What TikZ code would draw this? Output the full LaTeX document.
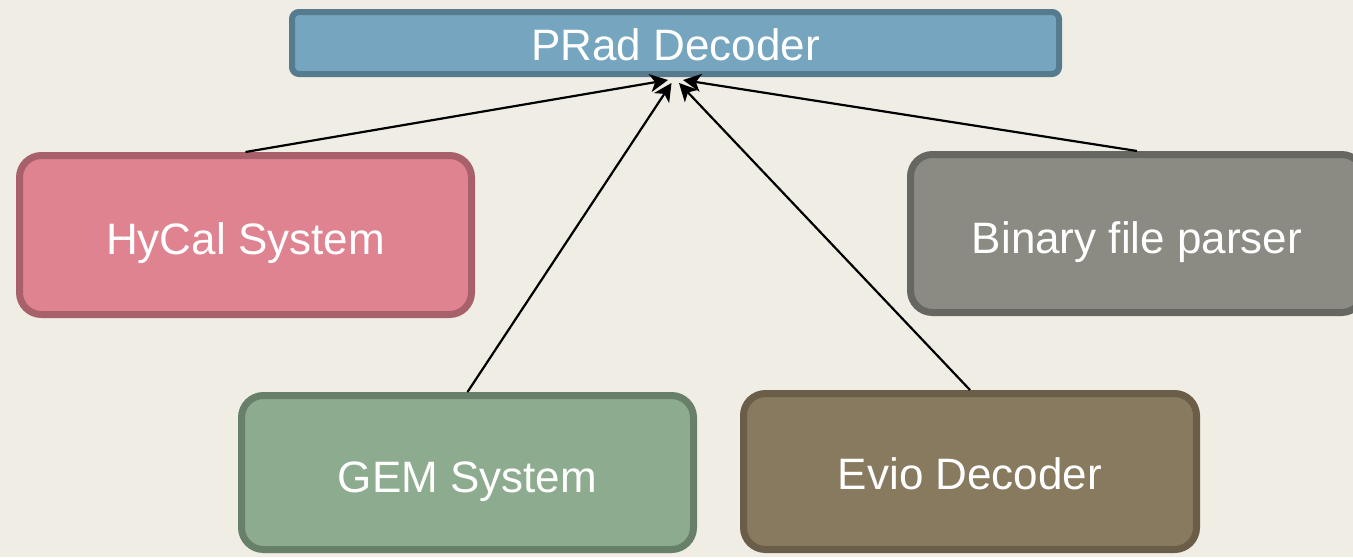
\documentclass[tikz,border=0pt]{standalone}
\usepackage{fontspec}
\setmainfont{Liberation Sans}
\usetikzlibrary{arrows.meta,calc}
\definecolor{bgcol}{HTML}{EFEDE4}
\definecolor{pradfill}{HTML}{76A5BF}
\definecolor{pradline}{HTML}{567A8E}
\definecolor{hycalfill}{HTML}{E08391}
\definecolor{hycalline}{HTML}{A8616B}
\definecolor{gemfill}{HTML}{8DAB8E}
\definecolor{gemline}{HTML}{687F69}
\definecolor{eviofill}{HTML}{877A5E}
\definecolor{evioline}{HTML}{6A5E48}
\definecolor{binfill}{HTML}{8B8B83}
\definecolor{binline}{HTML}{676761}
\tikzset{
  module/.style={draw, line width=3.5pt, rounded corners=11pt, text=white,
    font=\fontsize{22}{26}\selectfont, minimum width=226pt, minimum height=79pt,
    inner sep=0pt, text height=19.5pt, text depth=0pt},
  topbox/.style={draw=pradline, fill=pradfill, line width=3pt, rounded corners=3.5pt,
    text=white, font=\fontsize{22}{26}\selectfont, minimum width=383.5pt,
    minimum height=31pt, inner sep=0pt, text height=17pt, text depth=0pt},
  feed/.style={line width=1.1pt, -{Stealth[length=9pt,width=9pt,inset=2.5pt]}}
}
\begin{document}
\begin{tikzpicture}[x=0.5pt,y=-0.5pt]
  \fill[bgcol] (0,0) rectangle (1353,557);
  \useasboundingbox (0,0) rectangle (1353,557);
  \clip (0,0) rectangle (1353,557);

  % decoder modules
  \node[topbox] (prad) at (675.5,43) {PRad Decoder};
  \node[module, draw=hycalline, fill=hycalfill, minimum height=79.5pt] (hycal) at (245.5,235) {HyCal System};
  \node[module, draw=gemline, fill=gemfill, minimum height=77pt, text height=20pt] (gem) at (467.5,472.5) {GEM System};
  \node[module, draw=evioline, fill=eviofill, minimum width=226.5pt, minimum height=78pt, text height=18pt] (evio) at (970,471.5) {Evio Decoder};
  \node[module, draw=binline, fill=binfill, minimum width=226.5pt] (bin) at (1137,233.5) {Binary file parser};

  % connections into the main decoder
  \draw[feed] (hycal.north) -- ($(prad.south)+(-7.5,3)$);
  \draw[feed] (gem.north) -- ($(prad.south)+(-4,6)$);
  \draw[feed] (evio.north) -- ($(prad.south)+(3.5,6)$);
  \draw[feed] (bin.north) -- ($(prad.south)+(7.5,3)$);
\end{tikzpicture}
\end{document}
